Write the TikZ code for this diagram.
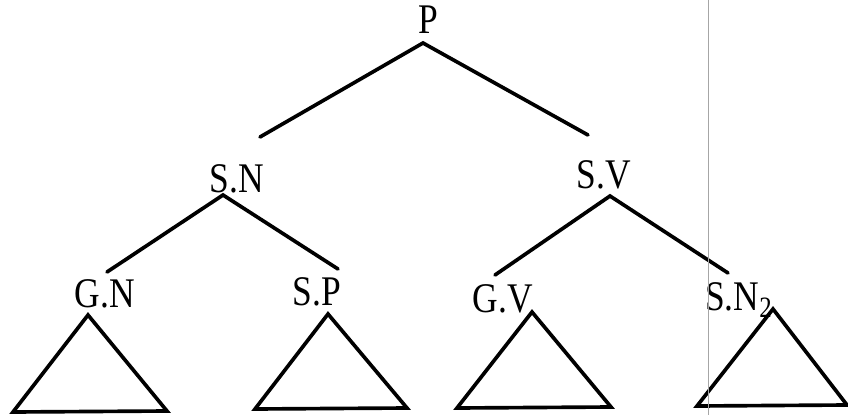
\documentclass[tikz,border=0pt]{standalone}
\usepackage{fontspec}
\setmainfont{Liberation Serif}[FakeStretch=0.84]

\begin{document}
\begin{tikzpicture}[
  x=0.025cm, y=-0.025cm,
  every node/.style={font=\fontsize{30}{32}\selectfont, inner sep=0pt, anchor=base},
  branche/.style={line width=2.6pt, line cap=round},
  cone/.style={line width=2.6pt, line join=miter}
]
\useasboundingbox (0,0) rectangle (848,415);

% Étiquettes
\node (P)  at (428,33)  {P};
\node (SN) at (237,192) {S.N};
\node (SV) at (604,188) {S.V};
\node (GN) at (105,307) {G.N};
\node (SP) at (317,305) {S.P};
\node (GV) at (503,312) {G.V};
\node[anchor=base west] (SN2) at (705,310) {S.N\textsubscript{2}};

% Points d'attache des branches
\coordinate (P-b)   at (423,43);
\coordinate (SN-h)  at (260,137);
\coordinate (SV-h)  at (588,135);
\coordinate (SN-b)  at (223,195);
\coordinate (SV-b)  at (610,196);
\coordinate (GN-h)  at (107,272);
\coordinate (SP-h)  at (338,269);
\coordinate (GV-h)  at (495,275);
\coordinate (SN2-h) at (728,273);

% Branches
\draw[branche] (SN-h) -- (P-b) -- (SV-h);
\draw[branche] (GN-h) -- (SN-b) -- (SP-h);
\draw[branche] (GV-h) -- (SV-b) -- (SN2-h);

% Triangles
\draw[cone] (88,315)  -- (13,412)  -- (167,411) -- cycle;
\draw[cone] (328,314) -- (255,409) -- (407,408) -- cycle;
\draw[cone] (532,312) -- (457,408) -- (611,407) -- cycle;
\draw[cone] (773,309) -- (697,406) -- (847,405) -- cycle;

% Bord de page
\draw[gray!70, line width=0.5pt] (708,0) -- (708,415);

\end{tikzpicture}
\end{document}
